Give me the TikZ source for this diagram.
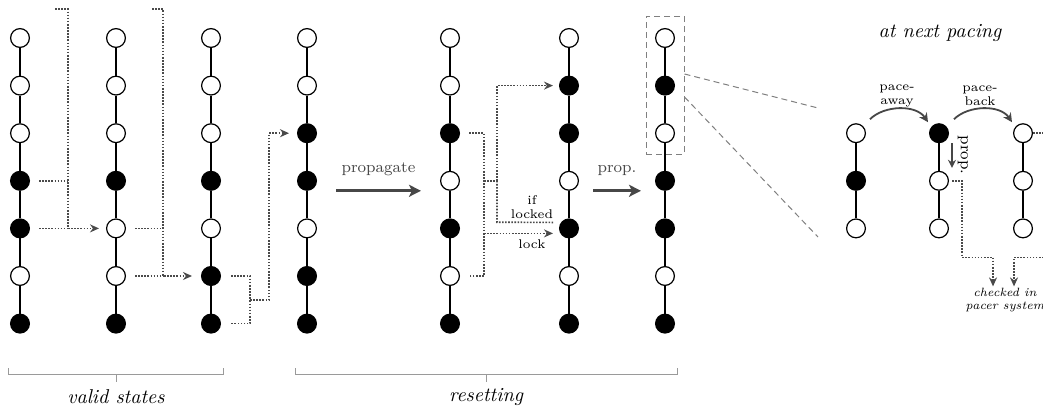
\documentclass[tikz,border=0pt]{standalone}
\usetikzlibrary{calc,arrows.meta}
\definecolor{dotgray}{HTML}{4A4A4A}
\definecolor{arrgray}{HTML}{474747}
\definecolor{boxgray}{HTML}{808080}
\definecolor{brgray}{HTML}{9A9A9A}
\tikzset{
  st/.style={circle,draw=black,line width=0.6pt,minimum size=9.4pt,inner sep=0pt},
  on/.style={st,fill=black},
  off/.style={st,fill=white},
  chainline/.style={line width=0.55pt},
  dotc/.style={dotgray,line width=0.85pt,dash pattern=on 0.8pt off 0.75pt},
  dota/.style={dotc,-{Stealth[length=4.5pt,width=4pt]}},
  bigarr/.style={arrgray,line width=1.5pt,-{Stealth[length=6pt,width=6pt,inset=1.5pt]}},
  curvarr/.style={arrgray,line width=0.9pt,-{Stealth[length=4.5pt,width=4.5pt]}},
  zoomline/.style={boxgray,line width=0.5pt,dash pattern=on 3pt off 2pt},
  bracketline/.style={brgray,line width=0.5pt},
  lab/.style={font=\fontsize{8}{9}\selectfont,inner sep=0pt},
  smalllab/.style={font=\fontsize{6.3}{7}\selectfont,align=center,inner sep=0pt},
  caption/.style={font=\itshape,inner sep=0pt},
  notelab/.style={font=\fontsize{6}{6.5}\selectfont\itshape,align=center,inner sep=0pt},
}
\begin{document}
\begin{tikzpicture}[x=0.5pt,y=-0.5pt]
\clip (0,0) rectangle (1043,412);
% main columns
\foreach \c/\x/\a/\b/\cc/\d/\e/\f/\g in {
  1/20/off/off/off/on/on/off/on,
  2/116/off/off/off/on/off/off/on,
  3/211/off/off/off/on/off/on/on,
  4/307/off/off/on/on/off/on/on,
  5/450/off/off/on/off/on/off/on,
  6/569/off/on/on/off/on/off/on,
  7/665/off/on/off/on/on/off/on}{
  \node[\a] (n\c1) at (\x,38) {};
  \node[\b] (n\c2) at (\x,85.6) {};
  \node[\cc] (n\c3) at (\x,133.2) {};
  \node[\d] (n\c4) at (\x,180.8) {};
  \node[\e] (n\c5) at (\x,228.4) {};
  \node[\f] (n\c6) at (\x,276) {};
  \node[\g] (n\c7) at (\x,323.6) {};
  \foreach \r [evaluate=\r as \rn using int(\r+1)] in {1,...,6}
    \draw[chainline] (n\c\r) -- (n\c\rn);
}
% right panel columns
\foreach \c/\x/\a/\b/\cc in {8/856/off/on/off, 9/939/on/off/off, 10/1023/off/off/off}{
  \node[\a] (n\c3) at (\x,133.2) {};
  \node[\b] (n\c4) at (\x,180.8) {};
  \node[\cc] (n\c5) at (\x,228.4) {};
  \draw[chainline] (n\c3) -- (n\c4);
  \draw[chainline] (n\c4) -- (n\c5);
}
% dotted connectors col1 -> col2
\draw[dotc] ($(n14)+(19,0)$) -- ($(n14)+(48,0)$);
\draw[dotc] ($(n15)+(19,0)$) -- ($(n15)+(48,0)$);
\draw[dota] ($(n11)+(35,-29)$) -- ($(n11)+(48,-29)$) -- ($(n15)+(48,0)$) -- ($(n25)+(-17,0)$);
% col2 -> col3
\draw[dotc] ($(n25)+(19,0)$) -- ($(n25)+(47,0)$);
\draw[dotc] ($(n26)+(19,0)$) -- ($(n26)+(47,0)$);
\draw[dota] ($(n21)+(36,-29)$) -- ($(n21)+(47,-29)$) -- ($(n26)+(47,0)$) -- ($(n36)+(-19,0)$);
% col3 -> col4
\draw[dotc] ($(n36)+(20,0)$) -- ($(n36)+(39,0)$) -- ($(n37)+(39,0)$) -- ($(n37)+(20,0)$);
\draw[dota] ($(n36)+(39,24)$) -- ($(n36)+(58,24)$) -- ($(n33)+(58,0)$) -- ($(n43)+(-18,0)$);
% col5 -> col6
\draw[dotc] ($(n53)+(19,0)$) -- ($(n53)+(34,0)$) -- ($(n56)+(34,0)$) -- ($(n56)+(19,0)$);
\draw[dotc] ($(n54)+(34,0)$) -- ($(n54)+(47,0)$);
\draw[dota] ($(n54)+(47,0)$) -- ($(n52)+(47,0)$) -- ($(n62)+(-16,0)$);
\draw[dotc] ($(n54)+(47,0)$) -- ($(n54)+(47,41.5)$) -- ($(n65)+(-16,-6)$);
\draw[dota] ($(n55)+(34,5)$) -- ($(n65)+(-16,5)$);
\node[smalllab] (iflocked) at ($(n65)+(-37,-21)$) {if\\locked};
\node[smalllab] (locklab) at ($(n65)+(-37,16)$) {lock};
% propagate arrows
\draw[bigarr] ($(n44)+(29,10)$) -- node[lab,above=7pt] (proplab) {propagate} ($(n54)+(-29,10)$);
\draw[bigarr] ($(n64)+(24,10)$) -- node[lab,above=7pt] (proplab2) {prop.} ($(n74)+(-24,10)$);
% zoom box
\node[zoomline,draw,minimum width=19pt,minimum height=69pt,inner sep=0pt] (zb) at (665,85) {};
\coordinate (zt) at (818,108);
\coordinate (zbot) at (818,237);
\draw[zoomline] ($(zb.east)+(0,-11)$) -- (zt);
\draw[zoomline] ($(zb.east)+(0,12)$) -- (zbot);
% right panel
\node[caption] (nextpacing) at (940,33) {at next pacing};
\draw[curvarr] ($(n83)+(14,-14)$) .. controls +(14,-14) and +(-12,-18) .. ($(n93)+(-11,-11)$);
\draw[curvarr] ($(n93)+(15,-14)$) .. controls +(14,-14) and +(-12,-18) .. ($(n103)+(-11,-11)$);
\node[smalllab] (paway) at (897,96) {pace-\\away};
\node[smalllab] (pback) at (980,96) {pace-\\back};
\draw[arrgray,line width=0.9pt,-{Stealth[length=4pt,width=4pt]}] ($(n93)+(13,10)$) -- ($(n94)+(13,-13)$);
\node[lab,rotate=-90] (vprop) at (963,155) {prop.};
\draw[dota] ($(n94)+(13,0)$) -- ($(n94)+(23,0)$) -- ($(n95)+(23,29)$) -- ($(n95)+(54,29)$) -- ($(n95)+(54,58)$);
\draw[dota] ($(n103)+(10,0)$) -- ($(n103)+(40,0)$) -- ($(n105)+(40,29)$) -- ($(n105)+(-9,29)$) -- ($(n105)+(-9,58)$);
\node[notelab] (checked) at (1005,300) {checked in\\pacer system};
% brackets
\coordinate (b1l) at (8,368);
\coordinate (b1r) at (223,368);
\coordinate (b1m) at (116,374);
\draw[bracketline] (b1l) -- ++(0,6) -- ($(b1r)+(0,6)$) -- (b1r);
\draw[bracketline] (b1m) -- ++(0,8);
\node[caption] (valid) at (116,397) {valid states};
\coordinate (b2l) at (295,368);
\coordinate (b2r) at (677,368);
\coordinate (b2m) at (486,374);
\draw[bracketline] (b2l) -- ++(0,6) -- ($(b2r)+(0,6)$) -- (b2r);
\draw[bracketline] (b2m) -- ++(0,8);
\node[caption] (reset) at (486,397) {resetting};
\end{tikzpicture}
\end{document}
